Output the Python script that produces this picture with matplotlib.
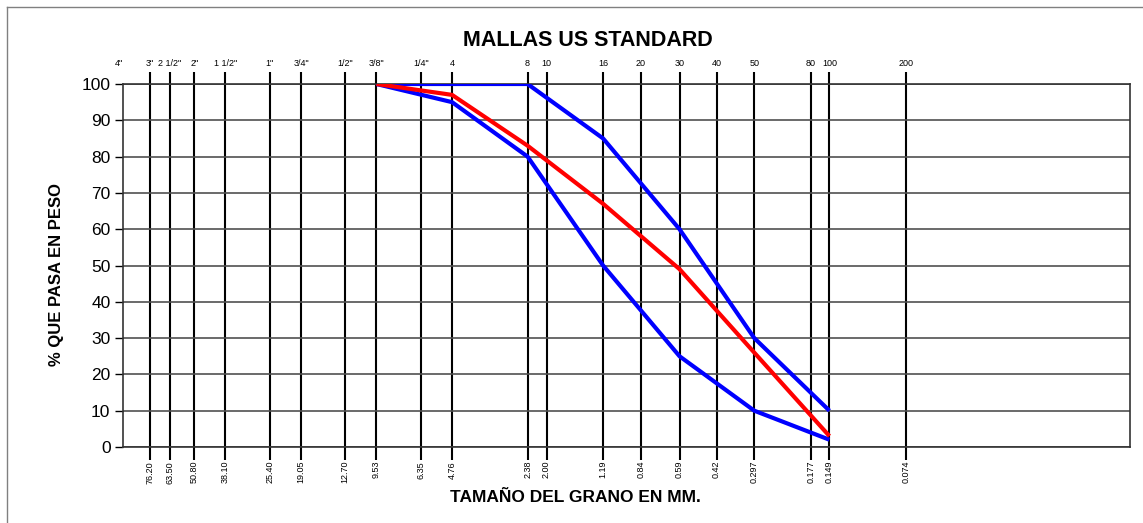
import matplotlib
matplotlib.use("Agg")
import matplotlib.pyplot as plt
import matplotlib.transforms as mtransforms
from matplotlib.lines import Line2D

plt.rcParams['font.family'] = ['Liberation Sans', 'DejaVu Sans']

# sieve openings (mm) and names
sieve_mm = [76.20, 63.50, 50.80, 38.10, 25.40, 19.05, 12.70, 9.53, 6.35, 4.76,
            2.38, 2.00, 1.19, 0.84, 0.59, 0.42, 0.297, 0.177, 0.149, 0.074]
mm_labels = ["76.20", "63.50", "50.80", "38.10", "25.40", "19.05", "12.70", "9.53",
             "6.35", "4.76", "2.38", "2.00", "1.19", "0.84", "0.59", "0.42",
             "0.297", "0.177", "0.149", "0.074"]
top_mm = [101.6] + sieve_mm
top_labels = ['4"', '3"', '2 1/2"', '2"', '1 1/2"', '1"', '3/4"', '1/2"', '3/8"', '1/4"',
              '4', '8', '10', '16', '20', '30', '40', '50', '80', '100', '200']

# gradation curves
curve_mm = [9.53, 4.76, 2.38, 1.19, 0.59, 0.297, 0.149]
upper_lim = [100, 100, 100, 85, 60, 30, 10]
lower_lim = [100, 95, 80, 50, 25, 10, 2]
muestra = [100, 97, 83, 67, 49, 26, 3]

W, H = 1143, 523
fig = plt.figure(figsize=(W / 100, H / 100), dpi=100)
ax = fig.add_axes([123 / W, 1 - 447 / H, (1130 - 123) / W, (447 - 84) / H])

ax.plot(curve_mm, upper_lim, color='#0000ff', lw=3, solid_capstyle='butt', zorder=3)
ax.plot(curve_mm, lower_lim, color='#0000ff', lw=3, solid_capstyle='butt', zorder=3)
ax.plot(curve_mm, muestra, color='#ff0000', lw=3, solid_capstyle='butt', zorder=4)

ax.set_xscale('log')
ax.set_xlim(97.6, 0.00944)
ax.set_ylim(0, 100)
ax.minorticks_off()

ax.set_xticks(sieve_mm)
ax.set_xticklabels(mm_labels, rotation=90, fontsize=6.5)
ax.tick_params(axis='x', direction='out', length=9, width=1.5, top=True,
               color='black', pad=1)
ax.set_yticks(range(0, 101, 10))
ax.tick_params(axis='y', direction='out', length=6, width=1, labelsize=12.5, pad=3)

for xv in sieve_mm:
    ax.axvline(xv, color='black', lw=1.5, zorder=1)
ax.yaxis.grid(True, color='#505050', lw=1.2, zorder=1)
for s in ax.spines.values():
    s.set_color('#333333')
    s.set_linewidth(1.2)

trans = mtransforms.blended_transform_factory(ax.transData, ax.transAxes)
for xv, lab in zip(top_mm, top_labels):
    ax.text(xv, 1.043, lab, transform=trans, ha='center', va='bottom', fontsize=6.5)

fig.text(588 / W, 1 - 40 / H, 'MALLAS US STANDARD', ha='center', va='center',
         fontsize=15.5, fontweight='bold')
fig.text(57 / W, 1 - 275 / H, '% QUE PASA EN PESO', ha='center', va='center',
         rotation=90, fontsize=12, fontweight='bold')
fig.text(575 / W, 1 - 498 / H, 'TAMAÑO DEL GRANO EN MM.', ha='center', va='center',
         fontsize=12.5, fontweight='bold')

# outer frame, only left and top edges are visible in the picture
x0, y0 = 6.5 / W, 1 - 7 / H
fig.lines.append(Line2D([x0, x0], [0, y0], transform=fig.transFigure,
                        color='#808080', lw=1))
fig.lines.append(Line2D([x0, 1], [y0, y0], transform=fig.transFigure,
                        color='#808080', lw=1))

fig.savefig('out.png', dpi=100)
